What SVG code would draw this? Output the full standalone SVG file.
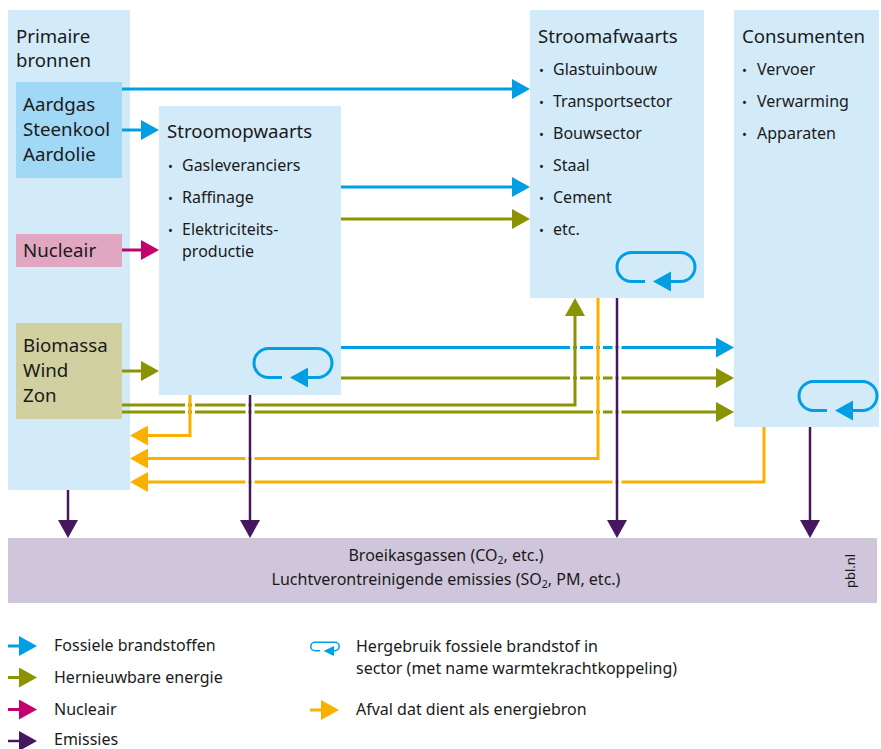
<svg xmlns="http://www.w3.org/2000/svg" width="881" height="749" viewBox="0 0 881 749">
<style>
text{font-family:"Noto Sans","Open Sans","DejaVu Sans",sans-serif;fill:#1a1a1a}
.box{fill:#d3ebf9}
.t18{font-size:18.6px}
.t19{font-size:18.7px}
.b{font-size:16px}
.dot{font-size:13px}
.leg{font-size:16px}
.c{fill:none;stroke-width:3;stroke-linejoin:miter}
.blue{stroke:#009fe3}
.green{stroke:#8c9300}
.mag{stroke:#c4006c}
.orange{stroke:#fbb000}
.purple{stroke:#45175e;stroke-width:2.5}
.gap{fill:#ffffff}
.loop{fill:none;stroke:#009fe3;stroke-width:3}
.loopa{fill:#009fe3}
</style>
<defs>
<marker id="mB" viewBox="0 0 18 20" markerWidth="18" markerHeight="20" refX="8" refY="10" orient="auto" markerUnits="userSpaceOnUse"><path d="M0,0L18,10L0,20z" fill="#009fe3"/></marker>
<marker id="mG" viewBox="0 0 18 20" markerWidth="18" markerHeight="20" refX="8" refY="10" orient="auto" markerUnits="userSpaceOnUse"><path d="M0,0L18,10L0,20z" fill="#8c9300"/></marker>
<marker id="mM" viewBox="0 0 18 20" markerWidth="18" markerHeight="20" refX="8" refY="10" orient="auto" markerUnits="userSpaceOnUse"><path d="M0,0L18,10L0,20z" fill="#c4006c"/></marker>
<marker id="mO" viewBox="0 0 18 20" markerWidth="18" markerHeight="20" refX="8" refY="10" orient="auto" markerUnits="userSpaceOnUse"><path d="M0,0L18,10L0,20z" fill="#fbb000"/></marker>
<marker id="mP" viewBox="0 0 18 20" markerWidth="18" markerHeight="20" refX="8" refY="10" orient="auto" markerUnits="userSpaceOnUse"><path d="M0,0L18,10L0,20z" fill="#45175e"/></marker>
<g id="loopIcon">
<path class="loop" d="M30,30.5H16.5A14.5,14.5 0 0 1 16.5,1.5H65.5A14.5,14.5 0 0 1 65.5,30.5H55"/>
<path class="loopa" d="M38,30.5L56,20.5L56,40.5z"/>
</g>
</defs>

<g id="primaire">
<rect class="box" x="8" y="10" width="122" height="480"/>
<text class="t18" x="16" y="43">Primaire</text>
<text class="t18" x="16" y="67">bronnen</text>
</g>
<g id="fossiel">
<rect x="16" y="82" width="106" height="96" fill="#a1d8f6"/>
<text class="t19" x="23" y="110.5">Aardgas</text>
<text class="t19" x="23" y="135.5">Steenkool</text>
<text class="t19" x="23" y="160.5">Aardolie</text>
</g>
<g id="nucleair">
<rect x="16" y="234" width="106" height="33" fill="#e1a7c1"/>
<text class="t19" x="23" y="256.5">Nucleair</text>
</g>
<g id="hernieuwbaar">
<rect x="16" y="323" width="106" height="96" fill="#d0d0a0"/>
<text class="t19" x="23" y="351.5">Biomassa</text>
<text class="t19" x="23" y="376.5">Wind</text>
<text class="t19" x="23" y="401.5">Zon</text>
</g>
<g id="stroomopwaarts">
<rect class="box" x="159" y="106" width="182" height="289"/>
<text class="t18" x="167" y="138">Stroomopwaarts</text>
<text class="dot" x="168" y="171">•</text><text class="b" x="182" y="171">Gasleveranciers</text>
<text class="dot" x="168" y="203">•</text><text class="b" x="182" y="203">Raffinage</text>
<text class="dot" x="168" y="235">•</text><text class="b" x="182" y="235">Elektriciteits-</text>
<text class="b" x="182" y="257">productie</text>
<use href="#loopIcon" x="252" y="347"/>
</g>
<g id="stroomafwaarts">
<rect class="box" x="530" y="10" width="174" height="288"/>
<text class="t18" x="538" y="42.5">Stroomafwaarts</text>
<text class="dot" x="539" y="75">•</text><text class="b" x="553" y="75">Glastuinbouw</text>
<text class="dot" x="539" y="107">•</text><text class="b" x="553" y="107">Transportsector</text>
<text class="dot" x="539" y="139">•</text><text class="b" x="553" y="139">Bouwsector</text>
<text class="dot" x="539" y="171">•</text><text class="b" x="553" y="171">Staal</text>
<text class="dot" x="539" y="203">•</text><text class="b" x="553" y="203">Cement</text>
<text class="dot" x="539" y="235">•</text><text class="b" x="553" y="235">etc.</text>
<use href="#loopIcon" x="615" y="251"/>
</g>
<g id="consumenten">
<rect class="box" x="734" y="10" width="145" height="417"/>
<text class="t18" x="742" y="42.5">Consumenten</text>
<text class="dot" x="742" y="75">•</text><text class="b" x="757" y="75">Vervoer</text>
<text class="dot" x="742" y="107">•</text><text class="b" x="757" y="107">Verwarming</text>
<text class="dot" x="742" y="139">•</text><text class="b" x="757" y="139">Apparaten</text>
<use href="#loopIcon" x="797" y="380"/>
</g>
<g id="emissies">
<rect x="8" y="538" width="869" height="65" fill="#cfc6dc"/>
<text x="446" y="561" font-size="16" text-anchor="middle">Broeikasgassen (CO<tspan font-size="10.5" dy="3">2</tspan><tspan dy="-3">, etc.)</tspan></text>
<text x="446" y="585" font-size="16" text-anchor="middle">Luchtverontreinigende emissies (SO<tspan font-size="10.5" dy="3">2</tspan><tspan dy="-3">, PM, etc.)</tspan></text>
<text x="0" y="0" font-size="13" text-anchor="middle" transform="translate(855,571) rotate(-90)">pbl.nl</text>
</g>

<g id="connectors">
<path class="c blue" d="M122,89H520" marker-end="url(#mB)"/>
<path class="c blue" d="M122,130H149" marker-end="url(#mB)"/>
<path class="c blue" d="M341,187H520" marker-end="url(#mB)"/>
<path class="c blue" d="M341,347.5H724" marker-end="url(#mB)"/>
<path class="c green" d="M341,219H520" marker-end="url(#mG)"/>
<path class="c green" d="M122,371H149" marker-end="url(#mG)"/>
<path class="c green" d="M341,378H724" marker-end="url(#mG)"/>
<path class="c green" d="M122,412H724" marker-end="url(#mG)"/>
<path class="c green" d="M122,405H575V308" marker-end="url(#mG)"/>
<path class="c mag" d="M122,250H149" marker-end="url(#mM)"/>
<path class="c orange" d="M190,395V435.5H140" marker-end="url(#mO)"/>
<path class="c orange" d="M598,298V458.5H140" marker-end="url(#mO)"/>
<path class="c orange" d="M764,427V482H140" marker-end="url(#mO)"/>
<g class="gap">
<rect x="570" y="344.5" width="3" height="6"/><rect x="577" y="344.5" width="3" height="6"/>
<rect x="570" y="375" width="3" height="6"/><rect x="577" y="375" width="3" height="6"/>
<rect x="593" y="344.5" width="3" height="6"/><rect x="600" y="344.5" width="3" height="6"/>
<rect x="593" y="375" width="3" height="6"/><rect x="600" y="375" width="3" height="6"/>
<rect x="593" y="409" width="3" height="6"/><rect x="600" y="409" width="3" height="6"/>
<rect x="612.5" y="344.5" width="3" height="6"/><rect x="618.5" y="344.5" width="3" height="6"/>
<rect x="612.5" y="375" width="3" height="6"/><rect x="618.5" y="375" width="3" height="6"/>
<rect x="612.5" y="409" width="3" height="6"/><rect x="618.5" y="409" width="3" height="6"/>
<rect x="612.5" y="479" width="3" height="6"/><rect x="618.5" y="479" width="3" height="6"/>
<rect x="185" y="402" width="3" height="6"/><rect x="192" y="402" width="3" height="6"/>
<rect x="185" y="409" width="3" height="6"/><rect x="192" y="409" width="3" height="6"/>
<rect x="245.5" y="402" width="3" height="6"/><rect x="251.5" y="402" width="3" height="6"/>
<rect x="245.5" y="409" width="3" height="6"/><rect x="251.5" y="409" width="3" height="6"/>
<rect x="245.5" y="455.5" width="3" height="6"/><rect x="251.5" y="455.5" width="3" height="6"/>
<rect x="245.5" y="479" width="3" height="6"/><rect x="251.5" y="479" width="3" height="6"/>
</g>
<path class="c purple" d="M68,490V528" marker-end="url(#mP)"/>
<path class="c purple" d="M250,395V528" marker-end="url(#mP)"/>
<path class="c purple" d="M617,298V528" marker-end="url(#mP)"/>
<path class="c purple" d="M810,427V528" marker-end="url(#mP)"/>
</g>

<g id="legend">
<path class="c blue" d="M8,646H27" marker-end="url(#mB)"/>
<text class="leg" x="54" y="651">Fossiele brandstoffen</text>
<path class="c green" d="M8,677.5H27" marker-end="url(#mG)"/>
<text class="leg" x="54" y="682.5">Hernieuwbare energie</text>
<path class="c mag" d="M8,709.5H27" marker-end="url(#mM)"/>
<text class="leg" x="54" y="714.5">Nucleair</text>
<path class="c purple" d="M8,741H27" marker-end="url(#mP)"/>
<text class="leg" x="54" y="745">Emissies</text>
<path d="M320,650.7H315A4.2,4.2 0 0 1 315,642.3H335A4.2,4.2 0 0 1 335,650.7H332" fill="none" stroke="#009fe3" stroke-width="1.5"/>
<path d="M323.5,651L334,646L334,656z" fill="#009fe3"/>
<text class="leg" x="356" y="651.5">Hergebruik fossiele brandstof in</text>
<text class="leg" x="356" y="673.5">sector (met name warmtekrachtkoppeling)</text>
<path class="c orange" d="M310,710H329" marker-end="url(#mO)"/>
<text class="leg" x="356" y="715">Afval dat dient als energiebron</text>
</g>
</svg>
